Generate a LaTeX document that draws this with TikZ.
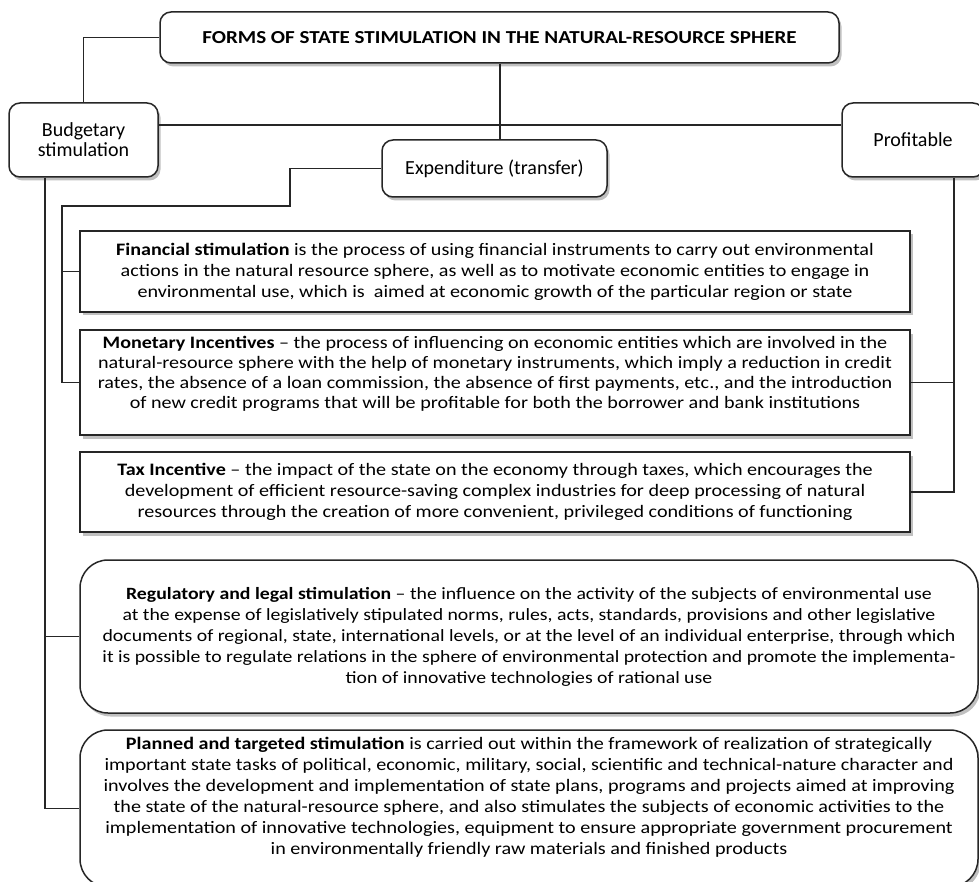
\documentclass[tikz,border=0pt]{standalone}
\usepackage{fontspec}
\setmainfont{Carlito}
\newfontfamily\bodyfont{Carlito}[FakeStretch=1.15,Ligatures=TeX]
\usetikzlibrary{shadows,calc}
\begin{document}
\begin{tikzpicture}[x=1pt,y=-1pt,
  base/.style={draw=black!85, line width=1.5pt, fill=white, align=center, inner sep=0pt,
    drop shadow={shadow xshift=2.5pt, shadow yshift=-3.5pt, fill=black!45, opacity=0.55}},
  sqbox/.style={base, minimum width=830pt, font=\bodyfont\fontsize{17.5}{21}\selectfont},
  rbox/.style={base, rounded corners=11pt, font=\fontsize{20}{20}\selectfont},
  bigbox/.style={base, rounded corners=28pt, minimum width=898pt, font=\bodyfont\fontsize{17.5}{21}\selectfont},
  conn/.style={draw=black!85, line width=1.4pt}]
\useasboundingbox (0,0) rectangle (979,882);

\node[rbox, minimum width=679pt, minimum height=51pt, font=\bodyfont\fontsize{18.3}{22}\selectfont\bfseries] (title) at (499.5,37.5) {FORMS OF STATE STIMULATION IN THE NATURAL-RESOURCE SPHERE};
\node[rbox, minimum width=149pt, minimum height=74pt] (budget) at (83.5,140) {Budgetary\\stimulation};
\node[rbox, minimum width=225pt, minimum height=57pt] (exp) at (494.5,168.5) {Expenditure (transfer)};
\node[rbox, minimum width=142pt, minimum height=74pt] (prof) at (913,140) {Profitable};

\node[sqbox, minimum height=81pt] (fin) at (495,271.5) {\textbf{Financial stimulation} is the process of using financial instruments to carry out environmental\\ actions in the natural resource sphere, as well as to motivate economic entities to engage in\\ environmental use, which is\ \ aimed at economic growth of the particular region or state};
\node[sqbox, minimum height=105pt, font=\bodyfont\fontsize{17.5}{20}\selectfont] (mon) at (495,382.5) {\textbf{Monetary Incentives} – the process of influencing on economic entities which are involved in the\\ natural-resource sphere with the help of monetary instruments, which imply a reduction in credit\\ rates, the absence of a loan commission, the absence of first payments, etc., and the introduction\\ of new credit programs that will be profitable for both the borrower and bank institutions\\[1pt]};
\node[sqbox, minimum height=80pt] (tax) at (495,492) {\textbf{Tax Incentive} – the impact of the state on the economy through taxes, which encourages the\\ development of efficient resource-saving complex industries for deep processing of natural\\ resources through the creation of more convenient, privileged conditions of functioning};
\node[bigbox, minimum height=153pt, font=\bodyfont\fontsize{17.2}{21}\selectfont] (reg) at (529,636.5) {\textbf{Regulatory and legal stimulation} – the influence on the activity of the subjects of environmental use\\ at the expense of legislatively stipulated norms, rules, acts, standards, provisions and other legislative\\ documents of regional, state, international levels, or at the level of an individual enterprise, through which\\ it is possible to regulate relations in the sphere of environmental protection and promote the implementa-\\ tion of innovative technologies of rational use};
\node[bigbox, minimum height=157pt] (plan) at (529,808.5) {\textbf{Planned and targeted stimulation} is carried out within the framework of realization of strategically\\ important state tasks of political, economic, military, social, scientific and technical-nature character and\\ involves the development and implementation of state plans, programs and projects aimed at improving\\ the state of the natural-resource sphere, and also stimulates the subjects of economic activities to the\\ implementation of innovative technologies, equipment to ensure appropriate government procurement\\ in environmentally friendly raw materials and finished products\\[4pt]};

\coordinate (hy) at (0,125);
\coordinate (c1) at (290,206);
\coordinate (c2) at (62,206);
\coordinate (bx) at (45,0);
\coordinate (px) at (954,0);
\coordinate (tx) at (500,0);

\draw[conn] (title.west) -| (budget.north);
\draw[conn] (title.south -| tx) -- (exp.north -| tx);
\draw[conn] (budget.east |- hy) -- (prof.west |- hy);
\draw[conn] (exp.west) -| (c1) -- (c2) |- (mon.west);
\draw[conn] (c2 |- fin.west) -- (fin.west);
\draw[conn] (budget.south -| bx) |- (plan.west);
\draw[conn] (bx |- reg.west) -- (reg.west);
\draw[conn] (prof.south -| px) |- (tax.east);
\draw[conn] (px |- mon.east) -- (mon.east);
\end{tikzpicture}
\end{document}
